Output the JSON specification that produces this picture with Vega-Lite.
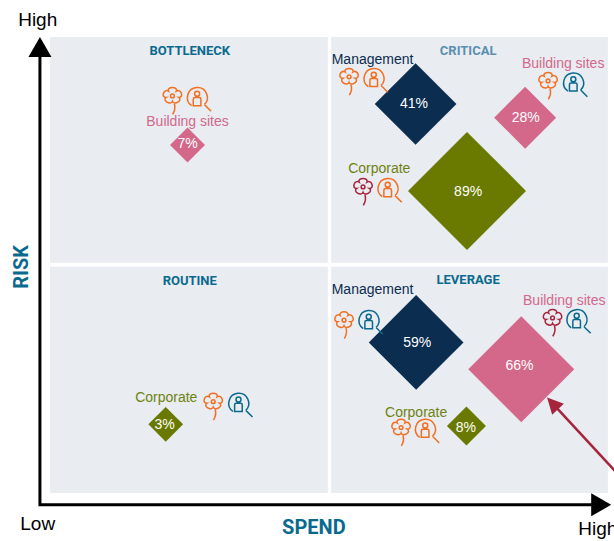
{
"$schema":"https://vega.github.io/schema/vega-lite/v6.json",
"width":559,"height":455,
"autosize":"none",
"padding":{"left":50,"top":38,"right":5,"bottom":48},
"background":"white",
"config":{"view":{"stroke":null},"text":{"font":"Liberation Sans"}},
"resolve":{"scale":{"color":"independent"}},
"encoding":{
"x":{"field":"spend","type":"quantitative","scale":{"domain":[0,100],"nice":false,"zero":false},"axis":null},
"y":{"field":"risk","type":"quantitative","scale":{"domain":[0,100],"nice":false,"zero":false},"axis":null}
},
"layer":[
{"data":{"values":[
{"quadrant":"BOTTLENECK","spend":0,"spend2":49.7,"risk":100.2,"risk2":50.6},
{"quadrant":"CRITICAL","spend":50.3,"spend2":99.8,"risk":100.2,"risk2":50.6},
{"quadrant":"ROUTINE","spend":0,"spend2":49.7,"risk":49.7,"risk2":0},
{"quadrant":"LEVERAGE","spend":50.3,"spend2":99.8,"risk":49.7,"risk2":0}
]},
"mark":{"type":"rect","color":"#e9ecf1"},
"encoding":{"x2":{"field":"spend2"},"y2":{"field":"risk2"}}},

{"data":{"values":[
{"step":1,"spend":-1.8,"risk":95.8},
{"step":2,"spend":-1.8,"risk":-2.6},
{"step":3,"spend":97.2,"risk":-2.6}
]},
"mark":{"type":"line","color":"#000000","strokeWidth":3,"strokeJoin":"miter"},
"encoding":{"order":{"field":"step"}}},

{"data":{"values":[
{"spend":-1.8,"risk":98.0,"heading":0},
{"spend":98.6,"risk":-2.6,"heading":90}
]},
"mark":{"type":"point","filled":true,"opacity":1,"color":"#000000","shape":"M0,-1L1.15,1L-1.15,1Z","size":400},
"encoding":{"angle":{"field":"heading","type":"quantitative","scale":null}}},

{"data":{"values":[
{"category":"Management","quadrant":"CRITICAL","pct":41,"spend":65.4,"risk":85.5},
{"category":"Building sites","quadrant":"CRITICAL","pct":28,"spend":85.0,"risk":82.5},
{"category":"Corporate","quadrant":"CRITICAL","pct":89,"spend":74.6,"risk":66.4},
{"category":"Management","quadrant":"LEVERAGE","pct":59,"spend":65.5,"risk":33.1},
{"category":"Building sites","quadrant":"LEVERAGE","pct":66,"spend":84.3,"risk":27.2},
{"category":"Corporate","quadrant":"LEVERAGE","pct":8,"spend":74.5,"risk":14.7},
{"category":"Building sites","quadrant":"BOTTLENECK","pct":7,"spend":24.6,"risk":76.5},
{"category":"Corporate","quadrant":"ROUTINE","pct":3,"spend":20.7,"risk":15.1}
]},
"mark":{"type":"point","shape":"diamond","filled":true,"opacity":1},
"encoding":{
"color":{"field":"category","type":"nominal","legend":null,"scale":{"domain":["Management","Building sites","Corporate"],"range":["#0b2d50","#d4688a","#6a7a00"]}},
"size":{"field":"pct","type":"quantitative","legend":null,"scale":{"type":"linear","zero":false,"domain":[3,7,8,28,41,59,66,89],"range":[1204,1225,1521,3844,6675,8968,11236,13924]}}
}},

{"data":{"values":[
{"text":"41%","spend":65.1,"risk":85.8},
{"text":"28%","spend":85.1,"risk":82.6},
{"text":"89%","spend":74.8,"risk":66.4},
{"text":"59%","spend":65.7,"risk":33.1},
{"text":"66%","spend":84.0,"risk":28.2},
{"text":"8%","spend":74.4,"risk":14.4},
{"text":"7%","spend":24.6,"risk":76.9},
{"text":"3%","spend":20.5,"risk":15.1}
]},
"mark":{"type":"text","color":"#ffffff","fontSize":14,"font":"Liberation Sans","align":"center","baseline":"middle","dy":1},
"encoding":{"text":{"field":"text","type":"nominal"}}},

{"data":{"values":[
{"text":"Management","spend":57.7,"risk":95.4},
{"text":"Building sites","spend":91.8,"risk":94.6},
{"text":"Corporate","spend":58.9,"risk":71.5},
{"text":"Management","spend":57.7,"risk":44.9},
{"text":"Building sites","spend":92.0,"risk":42.4},
{"text":"Corporate","spend":65.5,"risk":17.9},
{"text":"Building sites","spend":24.6,"risk":81.7},
{"text":"Corporate","spend":20.8,"risk":21.0}
]},
"mark":{"type":"text","fontSize":14,"font":"Liberation Sans","align":"center","baseline":"middle","dy":1},
"encoding":{
"text":{"field":"text","type":"nominal"},
"color":{"field":"text","type":"nominal","legend":null,"scale":{"domain":["Management","Building sites","Corporate"],"range":["#0b2d50","#d4688a","#6f8210"]}}
}},

{"data":{"values":[
{"text":"BOTTLENECK","spend":25.0,"risk":97.4,"tone":"dark"},
{"text":"CRITICAL","spend":74.8,"risk":97.4,"tone":"light"},
{"text":"ROUTINE","spend":25.0,"risk":47.0,"tone":"dark"},
{"text":"LEVERAGE","spend":74.8,"risk":47.2,"tone":"dark"}
]},
"mark":{"type":"text","fontSize":13,"fontWeight":"bold","font":"Roboto","align":"center","baseline":"middle","dy":1.5},
"encoding":{
"text":{"field":"text","type":"nominal"},
"color":{"field":"tone","type":"nominal","legend":null,"scale":{"domain":["dark","light"],"range":["#0a6a8e","#5b8fb0"]}}
}},

{"data":{"values":[
{"icon":"flower","tone":"orange","spend":21.9,"risk":86.2},
{"icon":"search","tone":"orange","spend":26.7,"risk":86.5},
{"icon":"flower","tone":"orange","spend":53.5,"risk":90.4},
{"icon":"search","tone":"orange","spend":58.3,"risk":90.7},
{"icon":"flower","tone":"orange","spend":89.1,"risk":89.5},
{"icon":"search","tone":"teal","spend":94.0,"risk":89.7},
{"icon":"flower","tone":"crimson","spend":56.0,"risk":66.2},
{"icon":"search","tone":"orange","spend":60.8,"risk":66.5},
{"icon":"flower","tone":"orange","spend":52.6,"risk":36.9},
{"icon":"search","tone":"teal","spend":57.4,"risk":37.5},
{"icon":"flower","tone":"crimson","spend":89.9,"risk":37.4},
{"icon":"search","tone":"teal","spend":94.6,"risk":37.7},
{"icon":"flower","tone":"orange","spend":62.8,"risk":13.3},
{"icon":"search","tone":"orange","spend":67.5,"risk":13.6},
{"icon":"flower","tone":"orange","spend":29.2,"risk":19.0},
{"icon":"search","tone":"teal","spend":34.1,"risk":19.3}
]},
"mark":{"type":"point","filled":false,"opacity":1,"strokeWidth":1.5},
"encoding":{
"shape":{"field":"icon","type":"nominal","legend":null,"scale":{"domain":["flower","search"],"range":[
"M-.29,-.72C-.43,-1.07,.43,-1.07,.29,-.72C.62,-.94,.89,-.24,.46,-.25C.8,-.04,.13,.39,0,.04C-.13,.39,-.8,-.04,-.46,-.25C-.89,-.24,-.62,-.94,-.29,-.72ZM.14,-.36C.14,-.28,.08,-.22,0,-.22C-.08,-.22,-.14,-.28,-.14,-.36C-.14,-.44,-.08,-.5,0,-.5C.08,-.5,.14,-.44,.14,-.36ZM.14,.22C.26,.55,.14,.8,.02,1",
"M.416,.416A.8,.8,0,1,0,-.609,.505M.416,.416L.95,.95M.03,-.45C.03,-.34,-.06,-.25,-.17,-.25C-.28,-.25,-.37,-.34,-.37,-.45C-.37,-.56,-.28,-.65,-.17,-.65C-.06,-.65,.03,-.56,.03,-.45ZM-.48,.5L-.48,-.02Q-.48,-.15,-.35,-.15L0,-.15Q.13,-.15,.13,-.02L.13,.5Z"
]}},
"size":{"field":"icon","type":"nominal","legend":null,"scale":{"domain":["flower","search"],"range":[729,625]}},
"color":{"field":"tone","type":"nominal","legend":null,"scale":{"domain":["orange","teal","crimson"],"range":["#f26f21","#0a6a8e","#a6243c"]}}
}},

{"data":{"values":[
{"step":1,"spend":89.9,"risk":19.7},
{"step":2,"spend":102.0,"risk":3.6}
]},
"mark":{"type":"line","color":"#a6243c","strokeWidth":2.5},
"encoding":{"order":{"field":"step"}}},

{"data":{"values":[{"spend":89.9,"risk":19.7,"heading":-43}]},
"mark":{"type":"point","filled":true,"opacity":1,"color":"#a6243c","shape":"M0,-1L1,1L-1,1Z","size":256},
"encoding":{"angle":{"field":"heading","type":"quantitative","scale":null}}},

{"data":{"values":[
{"text":"High","spend":-2.2,"risk":104.0},
{"text":"Low","spend":-2.2,"risk":-6.8},
{"text":"High","spend":98.0,"risk":-7.9}
]},
"mark":{"type":"text","color":"#000000","fontSize":19,"font":"Liberation Sans","align":"center","baseline":"middle"},
"encoding":{"text":{"field":"text","type":"nominal"}}},

{"data":{"values":[
{"text":"SPEND","spend":47.2,"risk":-7.7,"turn":0},
{"text":"RISK","spend":-5.0,"risk":49.7,"turn":-90}
]},
"mark":{"type":"text","color":"#0a6a8e","fontSize":20,"fontWeight":"bold","font":"Roboto","align":"center","baseline":"middle"},
"encoding":{"text":{"field":"text","type":"nominal"},"angle":{"field":"turn","type":"quantitative","scale":null}}}
]
}
